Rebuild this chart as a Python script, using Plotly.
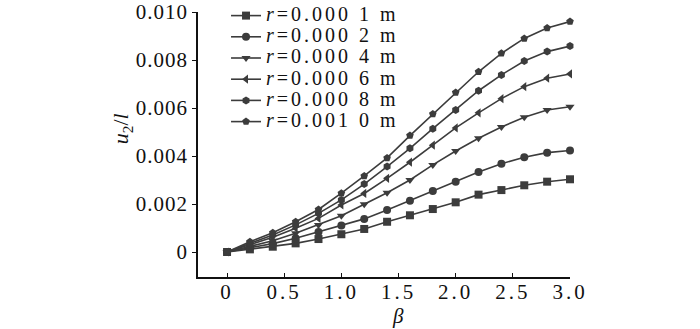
import plotly.graph_objects as go

beta = [0.0, 0.2, 0.4, 0.6, 0.8, 1.0, 1.2, 1.4, 1.6, 1.8, 2.0, 2.2, 2.4, 2.6, 2.8, 3.0]

u_r1 = [0, 0.00011, 0.00022, 0.00036, 0.00054, 0.00074, 0.00096, 0.00126, 0.00153, 0.00179,
        0.00207, 0.00239, 0.00258, 0.00278, 0.00293, 0.00303]
u_r2 = [0, 0.00017, 0.00035, 0.00057, 0.00083, 0.00110, 0.00138, 0.00175, 0.00214, 0.00254,
        0.00293, 0.00333, 0.00368, 0.00395, 0.00414, 0.00423]
u_r4 = [0, 0.00023, 0.00047, 0.00078, 0.00113, 0.00151, 0.00199, 0.00247, 0.00300, 0.00363,
        0.00421, 0.00474, 0.00521, 0.00561, 0.00592, 0.00605]
u_r6 = [0, 0.00029, 0.00061, 0.00099, 0.00140, 0.00196, 0.00244, 0.00307, 0.00374, 0.00445,
        0.00517, 0.00580, 0.00639, 0.00689, 0.00724, 0.00742]
u_r8 = [0, 0.00036, 0.00071, 0.00113, 0.00161, 0.00217, 0.00283, 0.00356, 0.00432, 0.00514,
        0.00592, 0.00672, 0.00738, 0.00796, 0.00835, 0.00858]
u_r10 = [0, 0.00043, 0.00080, 0.00126, 0.00177, 0.00245, 0.00317, 0.00392, 0.00485, 0.00575,
         0.00665, 0.00751, 0.00828, 0.00890, 0.00933, 0.00960]

series_names = ["0.000 1", "0.000 2", "0.000 4", "0.000 6", "0.000 8", "0.001 0"]
series_values = [u_r1, u_r2, u_r4, u_r6, u_r8, u_r10]
symbols = ["square", "circle", "triangle-down", "triangle-left", "hexagon", "pentagon"]

y_tickvals = [0, 0.002, 0.004, 0.006, 0.008, 0.010]
y_ticklabels = ["0", "0.002", "0.004", "0.006", "0.008", "0.010"]
x_tickvals = [0, 0.5, 1.0, 1.5, 2.0, 2.5, 3.0]
x_ticklabels = ["0", "0.5", "1.0", "1.5", "2.0", "2.5", "3.0"]

LINE = "#3c3c3c"
SERIF = "Liberation Serif"

def spaced(t, ls):
    return '<span style="letter-spacing:%dpx">%s</span>' % (ls, t)

fig = go.Figure()
for name, vals, sym in zip(series_names, series_values, symbols):
    fig.add_trace(go.Scatter(
        x=beta, y=vals, mode="lines+markers",
        name='<span style="font-size:20px;letter-spacing:3px"><i>r</i>=%s m</span>' % name,
        line=dict(color=LINE, width=1.6),
        marker=dict(symbol=sym, size=8, color=LINE),
        cliponaxis=False,
    ))

fig.update_layout(
    width=700, height=329,
    margin=dict(l=198, r=130, t=12, b=52, autoexpand=False),
    paper_bgcolor="white", plot_bgcolor="white",
    font=dict(family=SERIF, color="#111111", size=20),
    showlegend=True,
    legend=dict(
        xref="container", yref="container",
        x=0.3229, y=1.0, xanchor="left", yanchor="top",
        font=dict(family=SERIF, size=14, color="#111111"),
        bgcolor="rgba(0,0,0,0)", borderwidth=0,
        tracegroupgap=0, itemwidth=30,
    ),
    xaxis=dict(
        range=[-0.254, 3.0], showgrid=False, zeroline=False,
        showline=True, linecolor="#111111", linewidth=1.5,
        ticks="inside", ticklen=4, tickwidth=1.2, tickcolor="#111111",
        tickvals=x_tickvals, ticktext=[spaced(t, 3) for t in x_ticklabels],
        tickfont=dict(family=SERIF, size=21, color="#111111"),
        ticklabelstandoff=-5,
    ),
    yaxis=dict(
        range=[-0.0010417, 0.010], showgrid=False, zeroline=False,
        showline=True, linecolor="#111111", linewidth=1.5,
        ticks="outside", ticklen=4, tickwidth=1.2, tickcolor="#111111",
        tickvals=y_tickvals, ticktext=[spaced(t, 1) for t in y_ticklabels],
        tickfont=dict(family=SERIF, size=21, color="#111111"),
    ),
    annotations=[
        dict(text="<i>u</i><sub>2</sub>/<i>l</i>", xref="paper", yref="paper",
             x=-0.204, y=0.558, xanchor="center", yanchor="middle", textangle=-90,
             showarrow=False, font=dict(family=SERIF, size=22, color="#111111")),
        dict(text="<i>β</i>", xref="paper", yref="paper",
             x=0.5376, y=-0.148, xanchor="center", yanchor="middle",
             showarrow=False, font=dict(family=SERIF, size=21, color="#111111")),
    ],
)

fig.write_html("out.html")
